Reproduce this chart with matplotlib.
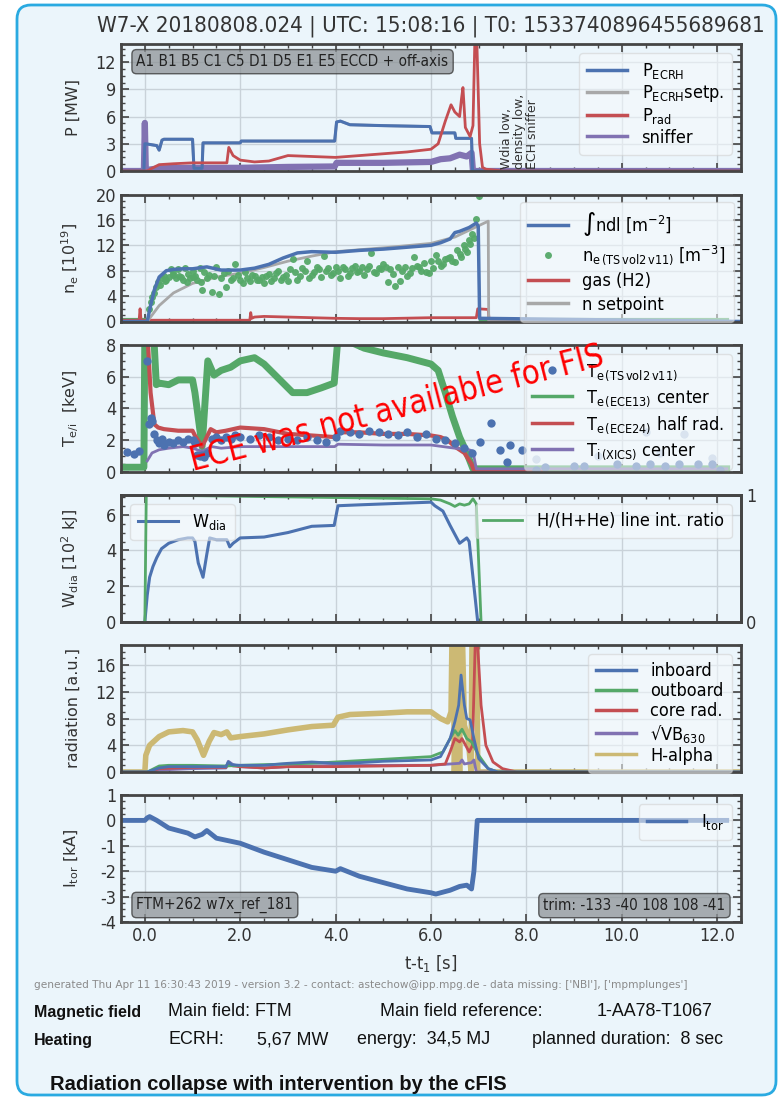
import numpy as np
import matplotlib
matplotlib.use("Agg")
import matplotlib.pyplot as plt
from matplotlib import font_manager as fm
from matplotlib.patches import FancyBboxPatch
from matplotlib.transforms import IdentityTransform
from matplotlib.ticker import MultipleLocator, AutoMinorLocator, FormatStrFormatter

# ---------------- data ----------------
# panel 1: power [MW]
t_ecrh = [-0.5, -0.02, 0.0, 0.02, 0.25, 0.3, 0.36, 0.4, 1.0, 1.03, 1.2, 1.22, 1.5, 2.0, 2.02, 3.0,
          3.98, 4.02, 4.1, 4.3, 5.0, 5.98, 6.02, 6.5, 6.52, 6.85, 6.87, 12.5]
p_ecrh = [0, 0, 3.0, 3.0, 2.8, 2.3, 3.4, 3.5, 3.5, 0.3, 0.3, 3.1, 3.1, 3.1, 3.3, 3.3,
          3.3, 5.4, 5.5, 5.1, 5.0, 4.9, 4.2, 4.2, 3.6, 3.6, 0.0, 0.0]
t_prad = [-0.5, 0.05, 0.15, 0.3, 0.6, 1.0, 1.5, 1.72, 1.76, 1.85, 2.0, 2.3, 2.6, 3.0, 3.5, 4.0,
          4.5, 5.0, 5.5, 6.0, 6.15, 6.3, 6.42, 6.5, 6.6, 6.64, 6.67, 6.72, 6.82, 6.88, 6.92,
          6.96, 7.02, 7.08, 7.15, 7.5, 12.5]
p_rad = [0, 0, 0.3, 0.7, 0.8, 0.9, 0.9, 0.9, 2.6, 1.7, 1.2, 1.0, 1.1, 1.7, 1.6, 1.5,
         1.7, 1.9, 2.1, 2.4, 3.0, 5.5, 7.3, 6.5, 6.0, 8.0, 9.2, 4.8, 3.8, 5.0, 14.5,
         14.5, 3.0, 0.4, 0.2, 0.0, 0.0]
t_sniff = [-0.5, -0.02, 0.0, 0.02, 0.3, 1.0, 2.0, 3.0, 3.98, 4.02, 5.0, 6.0, 6.2, 6.4, 6.6,
           6.75, 6.85, 6.88, 12.5]
p_sniff = [0, 0, 5.3, 0.1, 0.3, 0.35, 0.35, 0.45, 0.5, 0.9, 0.9, 1.0, 1.3, 1.4, 1.8,
           1.6, 2.0, 0.0, 0.0]

# panel 2: density [1e19]
t_ndl = [-0.5, 0.05, 0.12, 0.2, 0.3, 0.45, 0.6, 0.8, 1.0, 1.3, 1.6, 2.0, 2.3, 2.6, 2.9, 3.2,
         3.5, 4.0, 4.5, 5.0, 5.5, 6.0, 6.2, 6.4, 6.5, 6.6, 6.8, 6.95, 6.99, 7.02, 12.5]
ndl = [0, 0, 2.5, 5.0, 7.0, 8.0, 8.2, 8.3, 8.3, 8.6, 8.1, 8.1, 8.4, 9.0, 10.0, 10.8,
       11.0, 10.9, 11.2, 11.4, 11.7, 12.0, 12.4, 13.0, 14.0, 14.2, 14.8, 15.5, 15.0, 0.5, 0.0]
t_nset = [-0.5, 0.05, 0.3, 0.6, 1.0, 1.5, 2.0, 2.5, 3.0, 3.5, 4.0, 5.0, 6.0, 6.5, 7.2, 7.21, 12.5]
n_set = [0, 0, 2.5, 4.5, 6.0, 7.0, 7.6, 8.5, 9.5, 10.3, 11.0, 11.6, 12.3, 13.3, 15.8, 0, 0]
t_gas = [-0.5, -0.12, -0.1, -0.08, 0.0, 2.2, 2.22, 2.24, 2.3, 2.5, 3.0, 3.5, 4.0, 4.5, 5.0,
         6.0, 6.95, 6.98, 7.2, 7.22, 12.5]
gas = [0.2, 0.2, 2.0, 0.2, 0.2, 0.2, 1.4, 0.5, 0.7, 0.8, 0.7, 0.6, 0.5, 0.45, 0.45,
       0.6, 0.6, 2.0, 1.9, 0.0, 0.0]
ts_t = [0.08, 0.12, 0.16, 0.2, 0.24, 0.28, 0.32, 0.36, 0.4, 0.45, 0.5, 0.55, 0.6, 0.65, 0.7,
        0.75, 0.8, 0.85, 0.9, 0.95, 1.0, 1.05, 1.1, 1.15, 1.2, 1.25, 1.3, 1.4, 1.45, 1.5,
        1.55, 1.6, 1.7, 1.75, 1.8, 1.9, 2.0, 2.1, 2.2, 2.3, 2.4, 2.5, 2.6, 2.7, 2.8, 2.9,
        3.0, 3.05, 3.1, 3.2, 3.3, 3.4, 3.5, 3.6, 3.7, 3.75, 3.8, 3.9, 4.0, 4.1, 4.2, 4.3,
        4.4, 4.5, 4.6, 4.7, 4.75, 4.8, 4.9, 5.0, 5.1, 5.15, 5.2, 5.25, 5.3, 5.35, 5.4, 5.5,
        5.6, 5.65, 5.7, 5.8, 5.9, 6.0, 6.1, 6.2, 6.3, 6.4, 6.5, 6.55, 6.6, 6.7, 6.75, 6.8,
        6.85, 6.9, 6.95, 7.0,
        0.42, 0.58, 0.72, 0.88, 1.02, 1.18, 1.35, 1.65, 1.85, 1.95, 2.05, 2.15, 2.25, 2.35,
        2.45, 2.55, 2.65, 2.75, 2.85, 2.95, 3.15, 3.25, 3.35, 3.45, 3.55, 3.65, 3.85, 3.95,
        4.05, 4.15, 4.25, 4.35, 4.45, 4.55, 4.65, 4.85, 4.95, 5.05, 5.45, 5.55, 5.75, 5.85,
        5.95, 6.05, 6.15, 6.25, 6.35, 6.45, 6.62, 6.72, 6.82]
ts_n = [2.0, 3.0, 3.8, 4.5, 5.5, 6.2, 5.8, 6.8, 7.2, 6.5, 7.0, 8.2, 7.4, 6.8, 8.3,
        7.0, 6.6, 8.5, 7.5, 6.9, 8.0, 7.2, 6.5, 8.4, 5.0, 7.8, 6.8, 4.6, 7.2, 8.6,
        4.4, 6.8, 5.4, 7.9, 6.5, 9.0, 6.6, 7.8, 6.3, 7.2, 6.5, 6.0, 7.5, 6.8, 7.9, 7.0,
        6.3, 8.2, 9.9, 6.6, 8.4, 9.6, 7.4, 8.6, 7.0, 10.3, 8.0, 7.4, 8.6, 6.8, 8.2, 7.6,
        8.8, 8.0, 7.4, 8.8, 10.8, 7.8, 8.4, 9.0, 6.2, 8.2, 7.5, 5.6, 8.6, 6.4, 8.0, 7.2,
        8.4, 10.2, 8.8, 8.0, 7.8, 9.5, 10.4, 8.8, 9.8, 10.2, 9.4, 11.2, 10.6, 12.0, 11.0, 12.8,
        13.8, 13.2, 16.2, 19.8,
        6.4, 7.6, 7.2, 6.2, 7.0, 6.2, 7.4, 7.6, 6.8, 7.3, 6.1, 6.9, 7.4, 6.6,
        7.0, 7.2, 6.4, 7.6, 6.6, 7.4, 7.8, 7.2, 7.9, 6.9, 7.8, 8.3, 8.4, 7.6,
        7.9, 8.6, 7.2, 8.4, 7.8, 8.6, 8.2, 7.6, 8.2, 8.6, 8.6, 7.6, 8.6, 9.2,
        7.6, 8.4, 9.6, 9.0, 10.0, 9.6, 10.2, 11.4, 12.2]
ts_base_t = [-0.5, 0.02, np.nan, 7.05, 12.2]
ts_base_n = [0.3, 0.3, np.nan, 0.3, 0.3]

# panel 3: temperatures [keV]
t_ece13 = [-0.5, -0.02, 0.0, 0.18, 0.24, 0.3, 0.5, 0.7, 1.0, 1.05, 1.2, 1.32, 1.45, 1.6, 1.8,
           2.0, 2.3, 2.5, 2.7, 2.9, 3.1, 3.4, 3.7, 3.97, 4.05, 4.3, 4.6, 5.0, 5.5, 6.0, 6.15,
           6.3, 6.45, 6.6, 6.75, 6.88, 6.92, 12.2]
te_ece13 = [0.3, 0.3, 9.0, 9.0, 5.5, 5.6, 5.5, 5.8, 5.8, 5.0, 1.6, 7.0, 6.1, 6.4, 6.6,
            7.0, 7.2, 6.8, 6.2, 5.6, 5.0, 5.0, 5.3, 5.6, 8.5, 8.2, 7.8, 7.5, 7.2, 6.8, 6.4,
            5.0, 3.5, 2.2, 1.2, 0.2, 0.2, 0.2]
t_ece24 = [0.0, 0.05, 0.12, 0.2, 0.28, 0.4, 0.7, 1.0, 1.05, 1.2, 1.38, 1.5, 1.7, 2.0, 2.5, 3.0,
           3.5, 3.98, 4.05, 4.5, 5.0, 5.5, 6.0, 6.2, 6.35, 6.5, 6.7, 6.85, 6.9, 8.3]
te_ece24 = [9.0, 9.0, 5.0, 3.0, 2.8, 2.7, 2.6, 2.6, 2.3, 1.6, 2.7, 2.5, 2.6, 2.8, 2.7, 2.4,
            2.3, 2.2, 2.5, 2.5, 2.4, 2.4, 2.3, 2.2, 2.0, 1.6, 1.2, 0.5, 0.1, 0.1]
t_xics = [0.05, 0.15, 0.3, 0.5, 0.8, 1.0, 1.2, 1.4, 1.6, 2.0, 3.0, 3.98, 4.05, 5.0, 6.0, 6.5,
          6.8, 6.88, 6.95, 12.2]
ti_xics = [0.7, 1.2, 1.4, 1.5, 1.6, 1.5, 1.3, 1.6, 1.5, 1.6, 1.6, 1.6, 1.75, 1.7, 1.7, 1.5,
           1.4, 1.3, 0.2, 0.2]
te_ts_t = [-0.38, -0.22, -0.12, 0.05, 0.08, 0.12, 0.16, 0.2, 0.25, 0.3, 0.35, 0.4, 0.5, 0.6,
           0.7, 0.8, 0.9, 1.0, 1.05, 1.1, 1.15, 1.2, 1.25, 1.3, 1.4, 1.5, 1.6, 1.7, 1.8, 1.9,
           2.0, 2.2, 2.4, 2.6, 2.8, 3.0, 3.2, 3.4, 3.6, 3.8, 4.0, 4.1, 4.3, 4.5, 4.7, 4.9,
           5.1, 5.3, 5.5, 5.7, 5.9, 6.1, 6.3, 6.5, 6.7, 6.85,
           7.02, 7.25, 7.45, 7.6, 7.65, 7.9, 8.2, 8.4, 9.0, 9.2, 9.9, 10.3, 10.6, 10.9,
           11.2, 11.6, 11.9, 12.05]
te_ts = [1.25, 1.15, 1.3, 7.0, 3.0, 3.4, 3.2, 2.4, 2.0, 1.8, 2.1, 1.7, 1.9, 1.8,
         2.0, 1.9, 2.1, 2.0, 1.8, 1.1, 1.0, 1.1, 0.95, 1.2, 2.1, 2.2, 2.0, 2.2, 2.1, 2.3,
         2.2, 2.1, 2.3, 2.2, 2.0, 2.1, 2.0, 2.2, 2.0, 1.9, 2.2, 2.6, 2.5, 2.4, 2.6, 2.5,
         2.4, 2.3, 2.5, 2.2, 2.4, 2.1, 2.0, 1.8, 1.5, 1.2,
         1.9, 3.1, 1.4, 0.6, 1.7, 1.4, 0.1, 0.3, 0.4, 0.4, 0.5, 0.4, 0.5, 0.4,
         0.5, 0.5, 0.5, 0.1]
te_ts_light_t = [8.2, 9.5, 10.5, 10.8, 11.3, 11.9]
te_ts_light = [0.8, 1.0, 2.5, 1.2, 2.4, 0.9]

# panel 4: stored energy [1e2 kJ] and H/(H+He)
t_wdia = [0.0, 0.05, 0.1, 0.17, 0.25, 0.35, 0.5, 0.7, 0.9, 1.0, 1.05, 1.12, 1.22, 1.3, 1.36,
          1.5, 1.72, 1.78, 1.85, 2.0, 2.5, 3.0, 3.5, 3.97, 4.05, 4.5, 5.0, 5.5, 6.0, 6.08,
          6.25, 6.4, 6.6, 6.75, 6.8, 6.98]
wdia = [0, 1.5, 2.5, 3.1, 3.6, 4.1, 4.4, 4.6, 4.7, 4.7, 4.5, 3.3, 2.5, 3.8, 4.7,
        4.6, 4.6, 4.2, 4.4, 4.7, 4.75, 5.0, 5.35, 5.4, 6.5, 6.55, 6.6, 6.65, 6.7, 6.5,
        6.2, 5.4, 4.4, 4.7, 4.5, 0.0]
t_ratio = [0.0, 0.03, 1.0, 2.0, 3.0, 4.0, 5.0, 6.0, 6.2, 6.4, 6.5, 6.6, 6.7, 6.8, 6.88, 6.95, 7.05]
ratio = [0.0, 1.0, 0.995, 0.99, 0.985, 0.98, 0.975, 0.97, 0.96, 0.93, 0.91, 0.93, 0.92,
         0.93, 0.97, 0.93, 0.0]

# panel 5: radiation [a.u.]
t_ha = [-0.5, 0.0, 0.02, 0.1, 0.3, 0.5, 0.8, 1.0, 1.1, 1.23, 1.35, 1.45, 1.6, 1.72, 1.8, 2.0,
        2.5, 3.0, 3.5, 3.95, 4.05, 4.3, 5.0, 5.5, 6.0, 6.2, 6.35, 6.42, 6.44, 6.47, 6.49,
        6.55, 6.57, 6.6, 6.62, 6.66, 6.7, 6.78, 6.84, 6.86, 6.96, 6.98, 12.5]
halpha = [0, 0, 2.5, 4.0, 5.3, 6.0, 6.2, 6.0, 4.8, 2.5, 4.6, 5.9, 5.6, 6.0, 5.1, 5.3,
          5.7, 6.3, 6.8, 7.0, 8.2, 8.6, 8.8, 9.0, 9.0, 8.0, 7.5, 9.0, 20, 20, 0.0,
          20, 20, 0.0, 20, 20, 7.0, 5.0, 0.0, 20, 20, 0, 0]
t_inb = [-0.5, 0.05, 0.3, 0.5, 1.0, 1.7, 1.75, 1.82, 2.0, 2.5, 3.0, 3.5, 4.0, 4.5, 5.0, 6.0,
         6.2, 6.4, 6.5, 6.58, 6.63, 6.7, 6.75, 6.82, 6.9, 7.0, 7.2, 7.4, 12.5]
inboard = [0, 0, 0.6, 0.8, 0.8, 0.8, 1.5, 1.1, 1.0, 1.0, 1.3, 1.5, 1.3, 1.4, 1.6, 1.8,
           2.3, 5.0, 7.5, 10.0, 14.5, 10.0, 8.0, 7.8, 5.0, 2.0, 0.5, 0.0, 0.0]
t_outb = [-0.5, 0.05, 0.3, 0.5, 1.0, 1.7, 2.0, 2.5, 3.0, 3.5, 4.0, 4.5, 5.0, 5.5, 6.0, 6.25,
          6.4, 6.5, 6.57, 6.65, 6.75, 6.85, 7.0, 7.2, 7.4, 12.5]
outboard = [0, 0, 0.9, 1.0, 1.0, 0.9, 1.0, 1.1, 1.2, 1.3, 1.5, 1.7, 1.9, 2.1, 2.3, 3.0,
            5.0, 6.2, 5.5, 6.4, 5.0, 4.5, 2.5, 0.5, 0.0, 0.0]
t_core = [-0.5, 0.05, 0.3, 1.0, 1.7, 1.75, 1.85, 2.0, 2.5, 3.0, 4.0, 5.0, 6.0, 6.3, 6.4, 6.5,
          6.6, 6.65, 6.8, 6.87, 6.93, 6.97, 7.05, 7.15, 7.3, 7.5, 7.8, 12.5]
core = [0, 0, 0.5, 0.7, 0.7, 1.2, 0.9, 0.8, 0.6, 0.8, 0.8, 0.9, 1.0, 1.2, 3.0, 5.0,
        4.5, 5.0, 3.0, 4.0, 20, 20, 10.0, 4.0, 1.5, 0.5, 0.0, 0.0]
t_vb = [-0.5, 0.05, 0.3, 1.0, 1.7, 1.75, 1.85, 2.0, 2.5, 3.0, 4.0, 6.0, 6.4, 6.6, 6.65, 6.7,
        6.85, 6.9, 6.95, 12.5]
vb630 = [0, 0, 0.3, 0.5, 0.6, 1.6, 1.1, 0.8, 0.6, 0.8, 1.0, 1.0, 1.2, 1.3, 1.8, 1.2,
         1.4, 1.8, 0.0, 0.0]

# panel 6: toroidal current [kA]
t_itor = [-0.5, 0.0, 0.05, 0.1, 0.25, 0.5, 0.9, 1.05, 1.2, 1.3, 1.5, 2.0, 2.5, 3.0, 3.5, 4.0,
          4.1, 4.5, 5.0, 5.5, 6.0, 6.1, 6.4, 6.6, 6.75, 6.85, 6.9, 6.97, 12.2]
itor = [0, 0, 0.1, 0.15, 0.0, -0.3, -0.5, -0.65, -0.55, -0.4, -0.7, -0.9, -1.25, -1.55, -1.85, -2.0,
        -1.9, -2.2, -2.45, -2.7, -2.85, -2.9, -2.75, -2.6, -2.55, -2.7, -2.0, 0.0, 0.0]

x_ticks = [0, 2, 4, 6, 8, 10, 12]

# ---------------- fonts ----------------
entries = fm.fontManager.ttflist
names = {f.name for f in entries}


def pick_narrow():
    for fam in ["DejaVu Sans", "Noto Sans", "Open Sans", "Roboto", "Lato", "Inter"]:
        for f in entries:
            if (f.name == fam and f.stretch in ("condensed", "semi-condensed")
                    and f.style == "normal" and str(f.weight) in ("400", "normal", "regular", "book")):
                return fam, f.stretch
    for fam in ["Roboto Condensed", "Open Sans Condensed", "Noto Sans Condensed",
                "DejaVu Sans Condensed", "Liberation Sans Narrow"]:
        if fam in names:
            return fam, "normal"
    return None, "normal"


narrow, narrow_stretch = pick_narrow()
if narrow:
    plt.rcParams["font.family"] = [narrow, "DejaVu Sans"]
    plt.rcParams["font.stretch"] = narrow_stretch
    k = 1.0
else:
    plt.rcParams["font.family"] = ["DejaVu Sans"]
    k = 0.82
html_font = "Liberation Sans Narrow" if "Liberation Sans Narrow" in names else "Liberation Sans"
hk = 1.0 if html_font == "Liberation Sans Narrow" else 0.92

BLUE, GREEN, RED, PURPLE, YELLOW, GRAY = "#4C72B0", "#55A868", "#C44E52", "#8172B2", "#CCB974", "#A8A8A8"
BG = "#EBF5FB"

plt.rcParams["mathtext.default"] = "regular"
plt.rcParams["axes.unicode_minus"] = False

fig = plt.figure(figsize=(7.79, 10.97), dpi=100, facecolor="white")
fig.patches.append(FancyBboxPatch((17, 2), 759, 1090, boxstyle="round,pad=0,rounding_size=14",
                                  transform=IdentityTransform(), fc=BG, ec="#2AAAE1", lw=2,
                                  zorder=-10, figure=fig))

W, H = 779.0, 1097.0
bottoms = [171, 321.5, 472, 622, 772, 922]
axes = []
for b in bottoms:
    ax = fig.add_axes([121 / W, 1 - b / H, 620 / W, 127 / H])
    ax.set_facecolor("none")
    ax.set_xlim(-0.5, 12.5)
    ax.xaxis.set_major_locator(MultipleLocator(2))
    ax.xaxis.set_minor_locator(MultipleLocator(0.5))
    ax.yaxis.set_minor_locator(AutoMinorLocator(4))
    ax.grid(True, color="#C9D2D9", lw=1)
    ax.set_axisbelow(True)
    ax.tick_params(which="both", direction="in", top=True, right=True, color="#444444",
                   labelsize=13 * k, labelcolor="#333333")
    ax.tick_params(which="major", length=6, width=1.2)
    ax.tick_params(which="minor", length=3, width=1)
    for s in ax.spines.values():
        s.set_linewidth(2)
        s.set_color("#454545")
    ax.yaxis.set_label_coords(-0.065, 0.5)
    if b != bottoms[-1]:
        ax.tick_params(labelbottom=False)
    axes.append(ax)
ax1, ax2, ax3, ax4, ax5, ax6 = axes

ylab = dict(fontsize=11.5, family="DejaVu Sans", fontstretch="normal", color="#333333")
leg = dict(fontsize=13 * k, frameon=True, fancybox=True, framealpha=0.55, edgecolor="#CFCFCF",
           facecolor="#F6FAFC", handlelength=2.2, borderpad=0.45, labelspacing=0.12)
box = dict(boxstyle="round,pad=0.3", fc="#8E9397", ec="#333333", alpha=0.75, lw=1)


def thin_handles(lg, lw=2.5):
    for ln in lg.get_lines():
        ln.set_linewidth(lw)


fig.text(431 / W, 1 - 26 / H, "W7-X 20180808.024 | UTC: 15:08:16 | T0: 1533740896455689681",
         ha="center", va="center", fontsize=16 * k, color="#333333")

# panel 1
ax1.plot(t_ecrh, p_ecrh, color=GRAY, lw=2, label=r"$P_{ECRH}$setp.")
ax1.plot(t_sniff, p_sniff, color=PURPLE, lw=4.5, label="sniffer")
ax1.plot(t_ecrh, p_ecrh, color=BLUE, lw=2.2, label=r"$P_{ECRH}$")
ax1.plot(t_prad, p_rad, color=RED, lw=2, label=r"$P_{rad}$")
ax1.set_ylim(0, 14)
ax1.yaxis.set_major_locator(MultipleLocator(3))
ax1.set_ylabel("P [MW]", **ylab)
h, l = ax1.get_legend_handles_labels()
thin_handles(ax1.legend([h[2], h[0], h[3], h[1]], [l[2], l[0], l[3], l[1]], loc="upper right", **leg))
ax1.text(0.025, 0.92, "A1 B1 B5 C1 C5 D1 D5 E1 E5 ECCD + off-axis", transform=ax1.transAxes,
         ha="left", va="top", fontsize=11 * k, color="#222222", bbox=box)
ax1.text(7.45, 0.25, "Wdia low,\ndensity low,\nECH sniffer", rotation=90, ha="left", va="bottom",
         fontsize=9, family="DejaVu Sans", fontstretch="normal", color="#333333",
         linespacing=1.0)

# panel 2
ax2.plot(ts_base_t, ts_base_n, color=GREEN, lw=3)
ax2.plot(t_gas, gas, color=RED, lw=2, label="gas (H2)")
ax2.plot(t_nset, n_set, color=GRAY, lw=2, label="n setpoint")
ax2.plot(ts_t, ts_n, "o", color=GREEN, ms=5, mec="none", alpha=0.95,
         label=r"$n_{e\,(TS\,vol2\,v11)}$ [m$^{-3}$]")
ax2.plot(t_ndl, ndl, color=BLUE, lw=2.5, label="\u222bndl [m$^{-2}$]")
ax2.set_ylim(0, 20)
ax2.yaxis.set_major_locator(MultipleLocator(4))
ax2.set_ylabel(r"$n_e$ [10$^{19}$]", **ylab)
h, l = ax2.get_legend_handles_labels()
thin_handles(ax2.legend([h[3], h[2], h[0], h[1]], [l[3], l[2], l[0], l[1]], loc="upper right",
                        borderaxespad=0.4, **dict(leg, labelspacing=0.3)))

# panel 3
ax3.plot(t_ece13, te_ece13, color=GREEN, lw=5, label=r"$T_{e\,(ECE13)}$ center")
ax3.plot(t_ece24, te_ece24, color=RED, lw=3, label=r"$T_{e\,(ECE24)}$ half rad.")
ax3.plot(t_xics, ti_xics, color=PURPLE, lw=2, label=r"$T_{i\,(XICS)}$ center")
ax3.plot(te_ts_light_t, te_ts_light, "o", color="#B8C8E0", ms=6, mec="none")
ax3.plot(te_ts_t, te_ts, "o", color=BLUE, ms=6, mec="none", label=r"$T_{e\,(TS\,vol2\,v11)}$")
ax3.set_ylim(0, 8)
ax3.yaxis.set_major_locator(MultipleLocator(2))
ax3.set_ylabel(r"$T_{e/i}$  [keV]", **ylab)
h, l = ax3.get_legend_handles_labels()
thin_handles(ax3.legend([h[3], h[0], h[1], h[2]], [l[3], l[0], l[1], l[2]], loc="upper right",
                        **dict(leg, labelspacing=0.3)))
ax3.text(1.0, 0.05, "ECE was not available for FIS", rotation=14.4, rotation_mode="anchor",
         ha="left", va="baseline", fontsize=23.5 * k, color="#FF0000", zorder=20)

# panel 4
ax4.plot(t_wdia, wdia, color=BLUE, lw=2.2, label=r"$W_{dia}$")
ax4.set_ylim(0, 7.1)
ax4.yaxis.set_major_locator(MultipleLocator(2))
ax4.set_ylabel(r"$W_{dia}$ [10$^2$ kJ]", **ylab)
ax4.legend(loc="upper left", **leg)
ax4r = ax4.twinx()
ax4r.plot(t_ratio, ratio, color=GREEN, lw=2, label="H/(H+He) line int. ratio")
ax4r.set_ylim(0, 1)
ax4r.set_yticks([0, 1])
ax4r.tick_params(direction="in", length=0, labelsize=13 * k, labelcolor="#333333")
for s in ax4r.spines.values():
    s.set_linewidth(2)
    s.set_color("#454545")
ax4r.legend(loc="upper right", **leg)

# panel 5
ax5.plot(t_ha, halpha, color=YELLOW, lw=4, label="H-alpha")
ax5.plot(t_vb, vb630, color=PURPLE, lw=2, label="\u221a$VB_{630}$")
ax5.plot(t_core, core, color=RED, lw=2, label="core rad.")
ax5.plot(t_outb, outboard, color=GREEN, lw=2, label="outboard")
ax5.plot(t_inb, inboard, color=BLUE, lw=2, label="inboard")
ax5.set_ylim(0, 19)
ax5.yaxis.set_major_locator(MultipleLocator(4))
ax5.set_ylabel("radiation [a.u.]", **ylab)
h, l = ax5.get_legend_handles_labels()
thin_handles(ax5.legend(h[::-1], l[::-1], loc="upper right", **leg))

# panel 6
ax6.plot(t_itor, itor, color=BLUE, lw=3.5, label=r"$I_{tor}$")
ax6.set_ylim(-4, 1)
ax6.yaxis.set_major_locator(MultipleLocator(1))
ax6.set_ylabel(r"$I_{tor}$ [kA]", **ylab)
ax6.set_xticks(x_ticks)
ax6.xaxis.set_major_formatter(FormatStrFormatter("%.1f"))
ax6.set_xlabel(r"t-t$_1$ [s]", fontsize=13 * k, color="#333333", labelpad=6)
thin_handles(ax6.legend(loc="upper right", **leg))
ax6.text(0.025, 0.07, "FTM+262 w7x_ref_181", transform=ax6.transAxes, ha="left", va="bottom",
         fontsize=11 * k, color="#222222", bbox=box)
ax6.text(0.975, 0.07, "trim: -133 -40 108 108 -41", transform=ax6.transAxes, ha="right",
         va="bottom", fontsize=11 * k, color="#222222", bbox=box)

# footer text
fig.text(34 / W, 1 - 985 / H, "generated Thu Apr 11 16:30:43 2019 - version 3.2 - contact: "
         "astechow@ipp.mpg.de - data missing: ['NBI'], ['mpmplunges']",
         ha="left", va="center", fontsize=7.6, family="DejaVu Sans", fontstretch="normal",
         color="#8A8A8A")
rows = [(1012, "Magnetic field", [(168, "Main field: FTM"), (380, "Main field reference:"),
                                  (597, "1-AA78-T1067")]),
        (1040, "Heating", [(168, "ECRH:"), (257, "5,67 MW"), (357, "energy:  34,5 MJ"),
                           (532, "planned duration:  8 sec")])]
for y, head, items in rows:
    fig.text(34 / W, 1 - y / H, head, ha="left", va="center", fontsize=12.5 * hk,
             fontweight="bold", family=html_font, color="#111111")
    for x, s in items:
        fig.text(x / W, 1 - y / H, s, ha="left", va="center", fontsize=14 * hk,
                 family=html_font, color="#111111")
fig.text(50 / W, 1 - 1085 / H, "Radiation collapse with intervention by the cFIS", ha="left",
         va="center", fontsize=15.8 * hk, fontweight="bold", family=html_font, color="#111111")

fig.savefig("out.png", dpi=100, facecolor="white")
